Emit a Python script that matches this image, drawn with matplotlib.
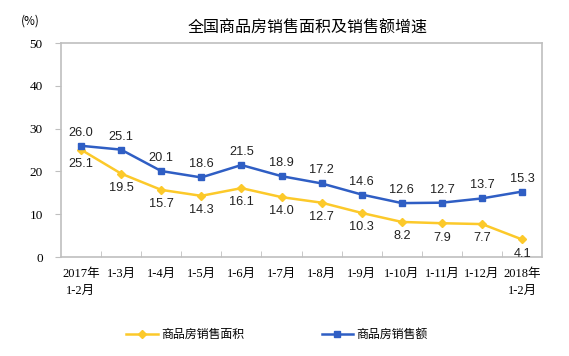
import numpy as np
import matplotlib.pyplot as plt

plt.rcParams['font.family'] = ['Liberation Sans', 'Noto Sans CJK SC', 'DejaVu Sans']

# data
cats = ["2017年\n1-2月", "1-3月", "1-4月", "1-5月", "1-6月", "1-7月", "1-8月",
        "1-9月", "1-10月", "1-11月", "1-12月", "2018年\n1-2月"]
area = [25.1, 19.5, 15.7, 14.3, 16.1, 14.0, 12.7, 10.3, 8.2, 7.9, 7.7, 4.1]
amount = [26.0, 25.1, 20.1, 18.6, 21.5, 18.9, 17.2, 14.6, 12.6, 12.7, 13.7, 15.3]
yticks = [0, 10, 20, 30, 40, 50]

yellow = "#FCC92A"
blue = "#2F5EC4"
gray = "#BFBFBF"

fig = plt.figure(figsize=(5.69, 3.56), dpi=100)
ax = fig.add_axes([0.107, 0.278, 0.846, 0.601])

x = np.arange(len(cats))
ax.plot(x, area, color=yellow, lw=1.8, marker="D", ms=4.5, label="商品房销售面积")
ax.plot(x, amount, color=blue, lw=1.8, marker="s", ms=5, label="商品房销售额")

for xi, v in zip(x, amount):
    ax.annotate("%.1f" % v, (xi, v), xytext=(0, 5), textcoords="offset points",
                ha="center", va="bottom", fontsize=9.2, color="#222222")
for xi, v in zip(x, area):
    ax.annotate("%.1f" % v, (xi, v), xytext=(0, -6), textcoords="offset points",
                ha="center", va="top", fontsize=9.2, color="#222222")

ax.set_xlim(-0.5, len(cats) - 0.5)
ax.set_ylim(0, 50)
ax.set_yticks(yticks)
ax.set_yticklabels([str(t) for t in yticks], family=["Liberation Serif", "Noto Sans CJK SC"], fontsize=9.5)
ax.set_xticks(x)
ax.set_xticklabels(cats, family=["Liberation Serif", "Noto Sans CJK SC"], fontsize=9, linespacing=1.55)
ax.set_xticks(np.arange(0.5, len(cats) - 0.5, 1), minor=True)
ax.tick_params(axis="x", which="major", length=0, pad=8)
ax.tick_params(axis="x", which="minor", direction="in", length=4, color=gray)
ax.tick_params(axis="y", direction="out", length=4, color=gray, pad=9)
for s in ax.spines.values():
    s.set_color(gray)
    s.set_linewidth(1.2)

fig.text(0.54, 0.921, "全国商品房销售面积及销售额增速", ha="center", va="center",
         fontsize=11.5, family=["Noto Sans CJK SC"])
fig.text(0.053, 0.941, "(%)", ha="center", va="center", fontsize=8.5,
         family=["Noto Sans CJK SC"])

fig.legend(loc="center", bbox_to_anchor=(0.487, 0.06), ncol=2, frameon=False,
           handlelength=2.6, columnspacing=6.5, handletextpad=0.3,
           prop={"family": ["Noto Sans CJK SC"], "size": 8.6})

fig.savefig("out.png", dpi=100)
